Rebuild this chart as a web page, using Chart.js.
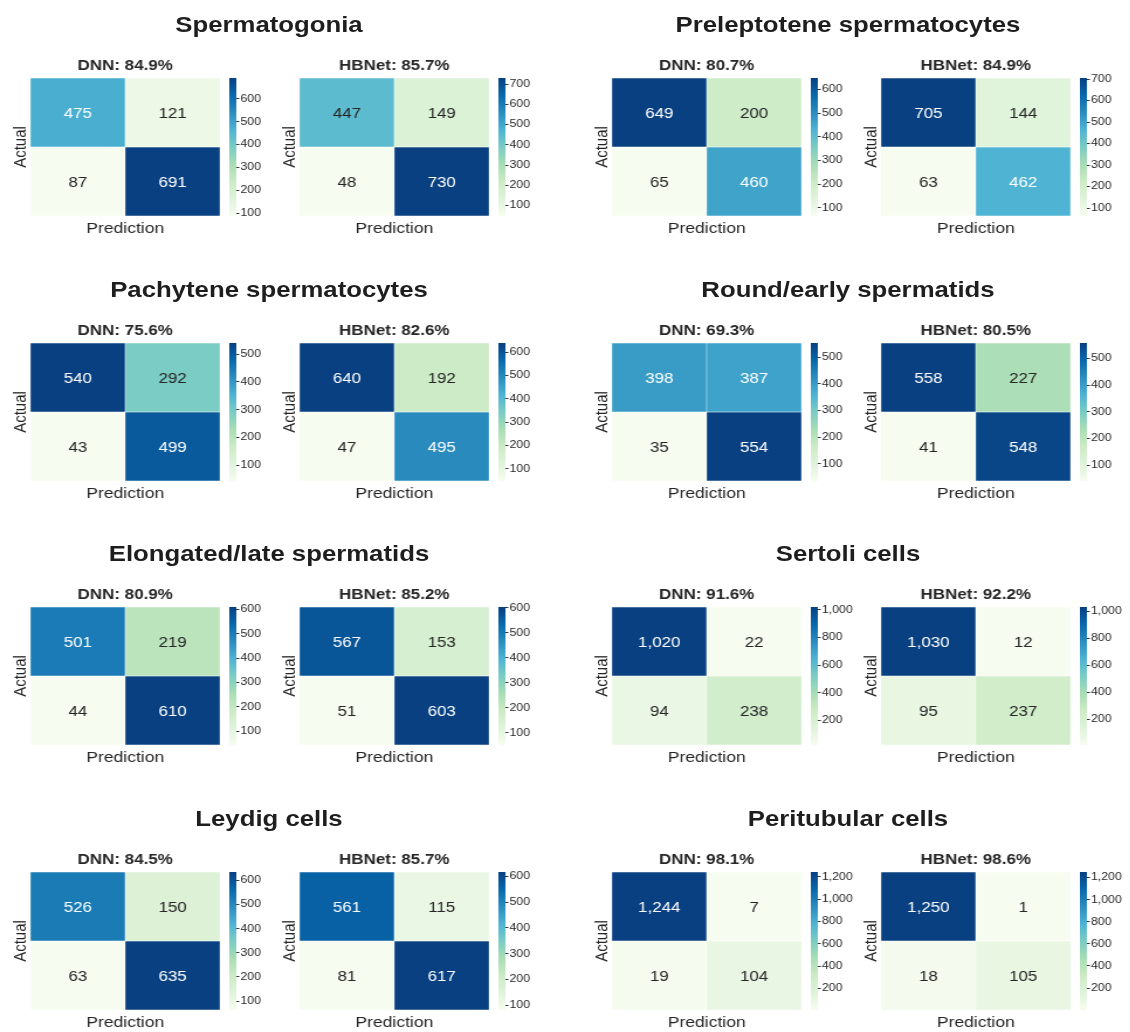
<!DOCTYPE html>
<html>
<head>
<meta charset="utf-8">
<script src="https://cdn.jsdelivr.net/npm/chart.js@4.4.0/dist/chart.umd.min.js"></script>
<style>
  html, body { margin: 0; padding: 0; background: #fff; }
  #fig { position: relative; width: 966px; height: 1032px; transform-origin: 0 0; }
  #fig canvas { position: absolute; }
  .ttl { position: absolute; width: 500px; text-align: center; white-space: nowrap;
         font: bold 22px 'Liberation Sans', Arial, sans-serif; color: #1e1e1e; line-height: 26px; }
</style>
</head>
<body>
<div id="fig"></div>
<script>
// ---- data ----
const cellTypes = ['Spermatogonia', 'Preleptotene spermatocytes', 'Pachytene spermatocytes',
  'Round/early spermatids', 'Elongated/late spermatids', 'Sertoli cells', 'Leydig cells', 'Peritubular cells'];
const dnnAcc = [84.9, 80.7, 75.6, 69.3, 80.9, 91.6, 84.5, 98.1];
const hbnetAcc = [85.7, 84.9, 82.6, 80.5, 85.2, 92.2, 85.7, 98.6];
// confusion matrices: rows = actual, cols = prediction
const dnnCm = [
  [[475, 121], [87, 691]],
  [[649, 200], [65, 460]],
  [[540, 292], [43, 499]],
  [[398, 387], [35, 554]],
  [[501, 219], [44, 610]],
  [[1020, 22], [94, 238]],
  [[526, 150], [63, 635]],
  [[1244, 7], [19, 104]]
];
const hbnetCm = [
  [[447, 149], [48, 730]],
  [[705, 144], [63, 462]],
  [[640, 192], [47, 495]],
  [[558, 227], [41, 548]],
  [[567, 153], [51, 603]],
  [[1030, 12], [95, 237]],
  [[561, 115], [81, 617]],
  [[1250, 1], [18, 105]]
];
// colorbar tick spacing per cell type
const cbStep = [100, 100, 100, 100, 100, 200, 100, 200];

// ---- layout (final pixels) ----
const SX = 1.17;
const HM_W = 190, HM_H = 138;
const COL_X = [30, 611.5];
const PAIR_DX = 269;
const ROW_Y0 = 78, ROW_DY = 264.6;
const CB_DX = 199, CB_W = 7;
const TITLE_CX = [269, 848];

const FONT = "'Liberation Sans', Arial, sans-serif";
const INK = '#262626';
Chart.defaults.font.family = FONT;

const GNBU = ['#f7fcf0', '#e0f3db', '#ccebc5', '#a8ddb5', '#7bccc4', '#4eb3d3', '#2b8cbe', '#0868ac', '#084081'];
const hex = h => [1, 3, 5].map(k => parseInt(h.substr(k, 2), 16));

function gnbu(t) {
  t = Math.max(0, Math.min(1, t));
  const p = t * 8, i = Math.min(7, Math.floor(p)), f = p - i;
  const a = hex(GNBU[i]), b = hex(GNBU[i + 1]);
  return a.map((v, k) => Math.round(v + (b[k] - v) * f));
}

function luminance(rgb) {
  const c = rgb.map(v => {
    v /= 255;
    return v <= 0.03928 ? v / 12.92 : Math.pow((v + 0.055) / 1.055, 2.4);
  });
  return 0.2126 * c[0] + 0.7152 * c[1] + 0.0722 * c[2];
}

const fmt = v => v.toLocaleString('en-US');

const fig = document.getElementById('fig');
fig.style.transform = `scaleX(${SX})`;

// cell numbers + subtitle + axis names
const cmText = {
  id: 'cmText',
  afterDatasetsDraw(chart) {
    const c = chart.ctx, ca = chart.chartArea;
    c.save();
    c.textAlign = 'center';
    c.textBaseline = 'middle';
    c.font = `14.5px ${FONT}`;
    chart.data.datasets.forEach((ds, i) => {
      chart.getDatasetMeta(i).data.forEach((bar, j) => {
        c.fillStyle = ds.textColor[j];
        c.fillText(fmt(ds.counts[j]), bar.x, (bar.y + bar.base) / 2 + 1);
      });
    });
    const cx = (ca.left + ca.right) / 2;
    c.fillStyle = INK;
    c.font = `bold 14.5px ${FONT}`;
    c.fillText(chart.options.plugins.cmText.subtitle, cx, ca.top - 12);
    c.font = `15px ${FONT}`;
    c.fillText('Prediction', cx, ca.bottom + 13);
    c.translate(ca.left - 10 / SX, (ca.top + ca.bottom) / 2);
    c.rotate(-Math.PI / 2);
    c.fillText('Actual', 0, 0);
    c.restore();
  }
};

function heatmap(x, y, cm, subtitle) {
  const vals = cm.flat();
  const vmin = Math.min(...vals), vmax = Math.max(...vals);
  const colour = v => gnbu((v - vmin) / (vmax - vmin));
  const padL = 28, padR = 4, padT = 34, padB = 28;
  const w = Math.round(HM_W / SX);
  const cv = document.createElement('canvas');
  cv.width = w + padL + padR;
  cv.height = HM_H + padT + padB;
  cv.style.left = (x / SX - padL) + 'px';
  cv.style.top = (y - padT) + 'px';
  fig.appendChild(cv);
  new Chart(cv, {
    type: 'bar',
    data: {
      labels: ['0', '1'],
      datasets: cm.map((row, r) => ({
        data: row.map(() => [1 - r, 2 - r]),
        counts: row,
        backgroundColor: row.map(v => `rgb(${colour(v).join(',')})`),
        textColor: row.map(v => luminance(colour(v)) > 0.408 ? INK : '#ffffff'),
        borderColor: '#ffffff',
        borderWidth: 0.5,
        borderSkipped: false,
        barPercentage: 1,
        categoryPercentage: 1,
        grouped: false
      }))
    },
    options: {
      responsive: false,
      animation: false,
      devicePixelRatio: 1,
      layout: { padding: { left: padL, right: padR, top: padT, bottom: padB } },
      plugins: { legend: { display: false }, tooltip: { enabled: false }, cmText: { subtitle } },
      scales: {
        x: { display: false },
        y: { display: false, min: 0, max: 2 }
      }
    },
    plugins: [cmText]
  });
  return [vmin, vmax];
}

function colorbar(x, y, vmin, vmax, step) {
  const axisW = 36, padT = 8, padB = 8;
  const w = Math.round(CB_W / SX);
  const cv = document.createElement('canvas');
  cv.width = w + axisW;
  cv.height = HM_H + padT + padB;
  cv.style.left = (x / SX) + 'px';
  cv.style.top = (y - padT) + 'px';
  fig.appendChild(cv);
  new Chart(cv, {
    type: 'bar',
    data: {
      labels: ['cb'],
      datasets: [{
        data: [[vmin, vmax]],
        backgroundColor(ctx) {
          const ca = ctx.chart.chartArea;
          if (!ca) return GNBU[4];
          const g = ctx.chart.ctx.createLinearGradient(0, ca.bottom, 0, ca.top);
          GNBU.forEach((c, i) => g.addColorStop(i / 8, c));
          return g;
        },
        borderWidth: 0,
        barPercentage: 1,
        categoryPercentage: 1
      }]
    },
    options: {
      responsive: false,
      animation: false,
      devicePixelRatio: 1,
      layout: { padding: { top: padT, bottom: padB, left: 0, right: 0 } },
      plugins: { legend: { display: false }, tooltip: { enabled: false } },
      scales: {
        x: { display: false },
        y: {
          position: 'right',
          min: vmin,
          max: vmax,
          border: { display: false },
          grid: { drawOnChartArea: false, drawTicks: true, tickLength: 2.5, tickColor: '#333', tickWidth: 1 },
          ticks: {
            color: INK,
            padding: 1,
            font: { size: 10.5 },
            callback: v => fmt(v)
          },
          // round-number ticks only, like a matplotlib colorbar
          afterBuildTicks(scale) {
            const ticks = [];
            for (let v = Math.ceil(vmin / step) * step; v <= vmax; v += step) ticks.push({ value: v });
            scale.ticks = ticks;
          },
          afterFit(scale) { scale.width = axisW; }
        }
      }
    }
  });
}

cellTypes.forEach((name, i) => {
  const col = i % 2, row = Math.floor(i / 2);
  const top = ROW_Y0 + row * ROW_DY;

  const t = document.createElement('div');
  t.className = 'ttl';
  t.textContent = name;
  t.style.left = (TITLE_CX[col] / SX - 250) + 'px';
  t.style.top = (top - 53 - 13) + 'px';
  fig.appendChild(t);

  const models = [['DNN', dnnAcc[i], dnnCm[i]], ['HBNet', hbnetAcc[i], hbnetCm[i]]];
  models.forEach(([model, acc, cm], k) => {
    const left = COL_X[col] + k * PAIR_DX;
    const [vmin, vmax] = heatmap(left, top, cm, `${model}: ${acc.toFixed(1)}%`);
    colorbar(left + CB_DX, top, vmin, vmax, cbStep[i]);
  });
});
</script>
</body>
</html>
